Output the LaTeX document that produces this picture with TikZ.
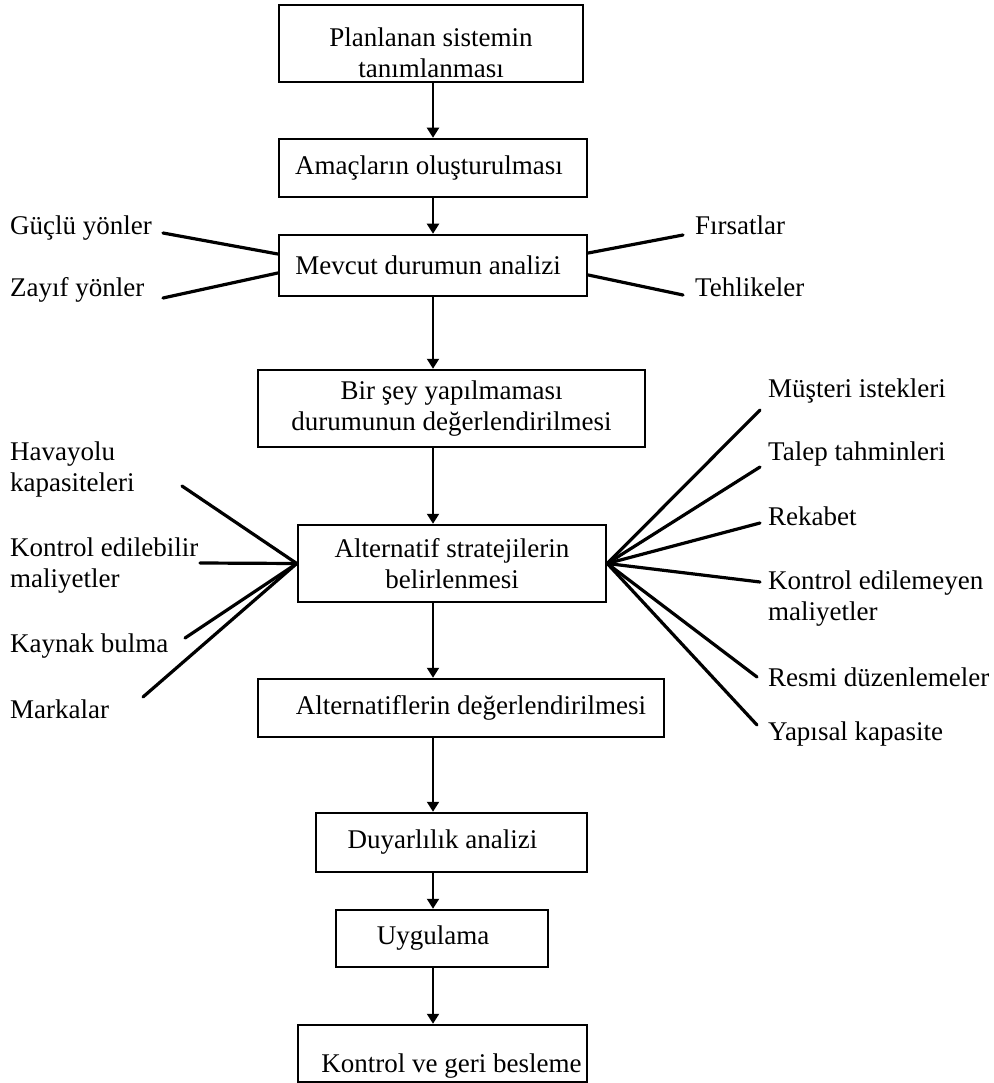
\documentclass[tikz,border=0pt]{standalone}
\usepackage{fontspec}
\setmainfont{Liberation Serif}
\usetikzlibrary{arrows.meta,calc}

\begin{document}
\begin{tikzpicture}[x=1pt,y=-1pt,
  every node/.style={font=\fontsize{27}{31}\selectfont, inner sep=0pt},
  stepbox/.style={draw, line width=2.5pt, align=center},
  lbl/.style={anchor=base west, align=left},
  flow/.style={line width=2pt, -{Triangle[length=10pt,width=12pt]}},
  spoke/.style={line width=3.2pt, line cap=round}]

\useasboundingbox (0,0) rectangle (993,1083);

% main chain of steps
\node[stepbox, minimum width=304pt, minimum height=77pt,
      text height=73pt, text depth=4pt] (b1) at (431,43.5)
  {Planlanan sistemin\\tanımlanması};
\node[stepbox, minimum width=308pt, minimum height=58pt] (b2) at (433,168)
  {Amaçların oluşturulması\hspace*{8pt}};
\node[stepbox, minimum width=308pt, minimum height=61pt] (b3) at (433,265.5)
  {Mevcut durumun analizi\hspace*{10pt}};
\node[stepbox, minimum width=387pt, minimum height=77pt] (b4) at (451.5,408.5)
  {Bir şey yapılmaması\\durumunun değerlendirilmesi};
\node[stepbox, minimum width=308pt, minimum height=77pt] (b5) at (452,563.5)
  {Alternatif stratejilerin\\belirlenmesi};
\node[stepbox, minimum width=406pt, minimum height=58pt] (b6) at (461,708)
  {\hspace*{20pt}Alternatiflerin değerlendirilmesi};
\node[stepbox, minimum width=271pt, minimum height=59pt] (b7) at (451.5,842.5)
  {Duyarlılık analizi\hspace*{18pt}};
\node[stepbox, minimum width=212pt, minimum height=57pt] (b8) at (442,938.5)
  {Uygulama\hspace*{18pt}};
\node[stepbox, minimum width=289pt, minimum height=57pt,
      text height=45pt, text depth=8pt] (b9) at (442.5,1053.5)
  {\hspace*{18pt}Kontrol ve geri besleme};

% vertical spine of the flow
\coordinate (spine) at (433,0);
\foreach \a/\b in {b1/b2,b2/b3,b3/b4,b4/b5,b5/b6,b6/b7,b7/b8,b8/b9}
  \draw[flow] (\a.south -| spine) -- (\b.north -| spine);

% SWOT labels
\node[lbl] (guclu) at (10,234) {Güçlü yönler};
\node[lbl] (zayif) at (10,296) {Zayıf yönler};
\node[lbl] (firsat) at (695,234) {Fırsatlar};
\node[lbl] (tehlike) at (695,296) {Tehlikeler};

\coordinate (gucluE) at (163,233);
\coordinate (zayifE) at (163,298);
\coordinate (firsatE) at (683,235);
\coordinate (tehlikeE) at (683,295);

\draw[spoke] (gucluE) -- ($(b3.west)+(0,-11.5)$);
\draw[spoke] (zayifE) -- ($(b3.west)+(0,7.5)$);
\draw[spoke] (firsatE) -- ($(b3.east)+(0,-12.5)$);
\draw[spoke] (tehlikeE) -- ($(b3.east)+(0,9.5)$);

% internal factors (base anchor sits on the last line)
\node[lbl] (havayolu) at (10,491) {Havayolu\\kapasiteleri};
\node[lbl] (kontrolA) at (10,587) {Kontrol edilebilir\\maliyetler};
\node[lbl] (kaynak) at (10,652) {Kaynak bulma};
\node[lbl] (marka) at (10,718) {Markalar};

\coordinate (havayoluE) at (182,486);
\coordinate (kontrolAE) at (200,563);
\coordinate (kaynakE) at (185,638);
\coordinate (markaE) at (143,697);

\foreach \p in {havayoluE,kontrolAE,kaynakE,markaE}
  \draw[spoke] (\p) -- (b5.west);

% external factors
\node[lbl] (musteri) at (768,397) {Müşteri istekleri};
\node[lbl] (talep) at (768,460) {Talep tahminleri};
\node[lbl] (rekabet) at (768,525) {Rekabet};
\node[lbl] (kontrolB) at (768,620) {Kontrol edilemeyen\\maliyetler};
\node[lbl] (resmi) at (768,686) {Resmi düzenlemeler};
\node[lbl] (yapisal) at (768,740) {Yapısal kapasite};

\coordinate (musteriE) at (760,410);
\coordinate (talepE) at (760,467);
\coordinate (rekabetE) at (760,523);
\coordinate (kontrolBE) at (760,582);
\coordinate (resmiE) at (757,677);
\coordinate (yapisalE) at (757,725);

\foreach \p in {musteriE,talepE,rekabetE,kontrolBE,resmiE,yapisalE}
  \draw[spoke] (\p) -- (b5.east);

\end{tikzpicture}
\end{document}
